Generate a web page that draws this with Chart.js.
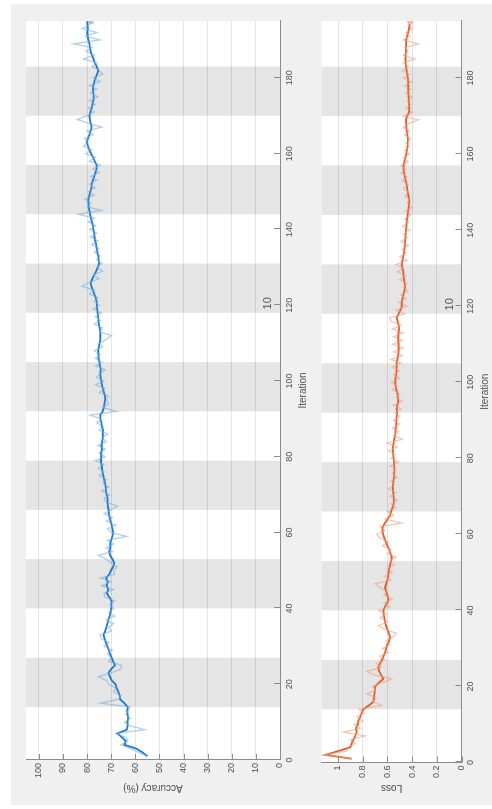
<!DOCTYPE html>
<html>
<head>
<meta charset="utf-8">
<script src="https://cdn.jsdelivr.net/npm/chart.js@4.4.1/dist/chart.umd.min.js"></script>
<style>
  html, body { margin: 0; padding: 0; background: #ffffff; }
  body { width: 492px; height: 809px; overflow: hidden; position: relative; }
  /* the training-progress figure is laid out landscape and turned a quarter turn */
  #figure {
    position: absolute; left: 0; top: 0;
    width: 809px; height: 492px;
    transform-origin: 0 0;
    transform: translate(0px, 809px) rotate(-90deg);
    background: #ffffff;
  }
  #panelBg { position: absolute; left: 4px; top: 11px; width: 801px; height: 481px; background: #f0f0f0; }
  canvas { position: absolute; left: 0; top: 0; }
</style>
</head>
<body>
<div id="figure">
  <div id="panelBg"></div>
  <canvas id="accChart" width="809" height="492"></canvas>
  <canvas id="lossChart" width="809" height="492"></canvas>
</div>
<script>
// ---- training log ----
const accuracyRaw = [
  55, 58.5, 62, 66, 63, 64, 68, 56, 62, 64.5, 62, 64, 63, 62, 74.5, 67, 66, 69, 68, 71,
  72, 75.3, 70, 66, 65.6, 71, 70, 71.5, 69.5, 73, 71, 74, 74.6, 70, 71, 69, 72, 68.5, 71, 69,
  70.5, 68.5, 72.5, 73, 69, 74, 70, 74.5, 68.5, 69, 67.5, 70, 72, 75.3, 69.5, 72, 69, 71.5, 63.5, 70,
  71.5, 68, 72, 69.5, 73, 70, 67.4, 72, 73, 70.5, 74, 71, 73.5, 72, 75, 73, 75.5, 73, 76.5, 72.5,
  75, 72.5, 75.5, 72, 74, 71.5, 75, 73, 76, 74, 78.7, 67.7, 73.5, 71, 72, 71, 75, 72.5, 76.5, 73,
  76, 74.5, 72.5, 76.5, 74, 76.5, 74.5, 77, 73.5, 75, 72, 69.8, 75, 73.5, 77, 74.5, 76.5, 74, 77.5, 75,
  77, 75.5, 79, 77, 82.2, 79, 75, 77.5, 73.5, 76, 73.8, 76, 74.5, 77, 75, 78, 75.5, 78.5, 76, 79,
  76.5, 79.5, 77, 83.6, 73.9, 80, 78.5, 81, 77, 79.5, 76.5, 79, 76, 78.5, 75, 77.5, 74.5, 79, 76.5, 80.5,
  78, 81.5, 79.5, 81, 77.5, 80, 74, 79.5, 84, 80, 77, 79.5, 76.5, 79, 75.5, 78.5, 76, 79, 74.6, 77.5,
  73.5, 75, 78, 76, 81.5, 77, 80.5, 78, 85.6, 74.6, 80.5, 76, 82, 79, 78.5
];
const accuracySmoothed = [
  55, 57, 59.5, 64.5, 64, 65.5, 67.5, 63.5, 63.2, 63.3, 63, 63.2, 63.4, 63.1, 64.5, 66.3, 66.5, 67, 67.7, 68.2,
  69.8, 70.5, 71.1, 70, 68.4, 69.2, 69.8, 70.4, 71, 71.6, 72.2, 72.7, 73.2, 72.5, 72, 71.6, 71.1, 70.6, 70.2, 70,
  69.9, 69.8, 70.8, 71.8, 71.2, 71.9, 71.4, 72.1, 70.8, 70.1, 69.2, 68.7, 69.5, 70.4, 70.8, 70.3, 70.4, 70, 69.5, 69.2,
  69.5, 69.8, 70.2, 70.6, 70.9, 71.1, 71.4, 71.6, 71.5, 71.9, 72.2, 72.3, 72.5, 72.9, 73.2, 73.5, 73.8, 74, 74.3, 74.1,
  74.2, 73.8, 74, 73.7, 73.4, 73.5, 73.3, 73.8, 74.1, 74.5, 74.6, 73.5, 73, 72.8, 72.5, 72.5, 73, 73.4, 73.8, 74.1,
  74.4, 74.6, 74.3, 74.7, 74.9, 75.2, 75.3, 75.4, 75.1, 74.8, 74.5, 74.6, 74.5, 74.8, 75.1, 75.3, 75.4, 75.6, 75.8, 75.9,
  76, 76.4, 77, 77.6, 78.2, 78.5, 77.8, 77, 76.2, 75.5, 75, 75.2, 75.4, 75.7, 76, 76.2, 76.6, 76.9, 77.1, 77.4,
  77.6, 78, 78.4, 78.7, 79, 79.2, 79.4, 79.4, 79, 78.6, 78.2, 78.1, 77.6, 77, 76.5, 76, 76, 76.8, 77.5, 78.3,
  79, 79.6, 80.1, 79.6, 79, 78.5, 78.1, 78.5, 78.8, 79, 78.6, 78.1, 77.8, 77.4, 77.3, 77.4, 77.6, 77.4, 77, 76.4,
  75.8, 75.3, 76, 76.8, 77.4, 78, 78.5, 78.8, 79, 79.4, 79.8, 79.9, 79.7, 79.8, 79.9
];
const lossRaw = [
  0.89, 1.12, 0.93, 0.92, 0.86, 0.90, 0.78, 0.957, 0.82, 0.87, 0.80, 0.85, 0.79, 0.83, 0.646, 0.72, 0.69, 0.768, 0.70, 0.72,
  0.64, 0.565, 0.70, 0.768, 0.65, 0.69, 0.62, 0.66, 0.59, 0.64, 0.58, 0.61, 0.555, 0.525, 0.62, 0.674, 0.60, 0.66, 0.61, 0.67,
  0.58, 0.625, 0.56, 0.63, 0.60, 0.66, 0.70, 0.57, 0.62, 0.56, 0.60, 0.54, 0.58, 0.53, 0.60, 0.57, 0.64, 0.59, 0.66, 0.687,
  0.62, 0.66, 0.484, 0.62, 0.55, 0.60, 0.53, 0.57, 0.52, 0.58, 0.53, 0.59, 0.54, 0.57, 0.52, 0.56, 0.53, 0.58, 0.51, 0.57,
  0.54, 0.59, 0.52, 0.606, 0.48, 0.55, 0.51, 0.56, 0.50, 0.55, 0.50, 0.54, 0.49, 0.55, 0.48, 0.53, 0.50, 0.56, 0.52, 0.57,
  0.50, 0.55, 0.50, 0.56, 0.49, 0.57, 0.48, 0.55, 0.47, 0.56, 0.48, 0.55, 0.47, 0.56, 0.49, 0.57, 0.58, 0.46, 0.53, 0.44,
  0.51, 0.45, 0.49, 0.43, 0.47, 0.44, 0.50, 0.45, 0.52, 0.47, 0.53, 0.44, 0.50, 0.45, 0.48, 0.43, 0.49, 0.44, 0.47, 0.42,
  0.48, 0.43, 0.46, 0.41, 0.45, 0.40, 0.44, 0.42, 0.46, 0.43, 0.47, 0.43, 0.48, 0.44, 0.49, 0.45, 0.49, 0.43, 0.47, 0.42,
  0.46, 0.42, 0.45, 0.41, 0.46, 0.42, 0.47, 0.43, 0.35, 0.47, 0.40, 0.45, 0.41, 0.44, 0.40, 0.45, 0.41, 0.46, 0.40, 0.47,
  0.42, 0.48, 0.43, 0.47, 0.377, 0.47, 0.43, 0.46, 0.35, 0.47, 0.42, 0.45, 0.40, 0.43, 0.415
];
const lossSmoothed = [
  0.89, 1.10, 1.0, 0.90, 0.89, 0.876, 0.86, 0.849, 0.855, 0.84, 0.836, 0.82, 0.81, 0.795, 0.75, 0.714, 0.71, 0.705, 0.702, 0.70,
  0.67, 0.633, 0.65, 0.668, 0.674, 0.66, 0.645, 0.63, 0.619, 0.61, 0.60, 0.585, 0.579, 0.59, 0.60, 0.612, 0.619, 0.625, 0.63, 0.633,
  0.62, 0.60, 0.593, 0.60, 0.61, 0.619, 0.61, 0.60, 0.595, 0.59, 0.585, 0.578, 0.57, 0.565, 0.575, 0.585, 0.60, 0.612, 0.625, 0.635,
  0.64, 0.638, 0.62, 0.60, 0.579, 0.57, 0.56, 0.55, 0.547, 0.55, 0.553, 0.555, 0.556, 0.552, 0.548, 0.546, 0.544, 0.545, 0.548, 0.55,
  0.553, 0.556, 0.556, 0.55, 0.545, 0.538, 0.535, 0.532, 0.53, 0.527, 0.525, 0.522, 0.525, 0.52, 0.512, 0.515, 0.52, 0.528, 0.534, 0.538,
  0.535, 0.53, 0.527, 0.525, 0.525, 0.52, 0.515, 0.51, 0.508, 0.51, 0.512, 0.512, 0.51, 0.505, 0.51, 0.518, 0.525, 0.51, 0.495, 0.484,
  0.484, 0.478, 0.47, 0.462, 0.457, 0.46, 0.465, 0.47, 0.471, 0.478, 0.484, 0.478, 0.472, 0.466, 0.462, 0.458, 0.457, 0.455, 0.452, 0.45,
  0.447, 0.444, 0.44, 0.436, 0.432, 0.428, 0.424, 0.423, 0.43, 0.436, 0.44, 0.445, 0.452, 0.458, 0.464, 0.468, 0.471, 0.462, 0.455, 0.448,
  0.442, 0.438, 0.436, 0.435, 0.438, 0.442, 0.446, 0.448, 0.45, 0.44, 0.425, 0.423, 0.424, 0.426, 0.428, 0.43, 0.431, 0.431, 0.433, 0.435,
  0.44, 0.445, 0.45, 0.453, 0.455, 0.453, 0.451, 0.45, 0.449, 0.449, 0.44, 0.432, 0.425, 0.42, 0.417
];
const iterations = accuracyRaw.map((_, i) => i + 1);

// axis ticks
const iterationTicks = [0, 20, 40, 60, 80, 100, 120, 140, 160, 180];
const accuracyTicks = [0, 10, 20, 30, 40, 50, 60, 70, 80, 90, 100];
const lossTicks = [0, 0.2, 0.4, 0.6, 0.8, 1];

// epochs: 13 iterations each, every second epoch shaded
const itersPerEpoch = 13;
const shadedEpochs = [2, 4, 6, 8, 10, 12, 14];
const epochMarker = { text: '10', iteration: 120.5 };

const FONT = '"Liberation Sans", Arial, Helvetica, sans-serif';
const TEXT = '#505050';
const AXIS = '#8c8c8c';

const progressPlugin = {
  id: 'progressBackdrop',
  beforeDraw(chart) {
    const { ctx, chartArea: a, scales: { x } } = chart;
    ctx.save();
    ctx.fillStyle = '#ffffff';
    ctx.fillRect(a.left, a.top, a.right - a.left, a.bottom - a.top);
    ctx.fillStyle = '#e5e5e5';
    shadedEpochs.forEach(e => {
      const x0 = x.getPixelForValue((e - 1) * itersPerEpoch + 1);
      const x1 = Math.min(x.getPixelForValue(e * itersPerEpoch + 1), a.right);
      ctx.fillRect(x0, a.top, x1 - x0, a.bottom - a.top);
    });
    ctx.restore();
  },
  afterDraw(chart) {
    const { ctx, chartArea: a, scales: { x, y } } = chart;
    ctx.save();
    // inward tick marks
    ctx.strokeStyle = AXIS;
    ctx.lineWidth = 1;
    ctx.beginPath();
    x.ticks.forEach(t => {
      const px = Math.round(x.getPixelForValue(t.value)) + 0.5;
      ctx.moveTo(px, a.bottom);
      ctx.lineTo(px, a.bottom - 6);
    });
    y.ticks.forEach(t => {
      const py = Math.round(y.getPixelForValue(t.value)) + 0.5;
      ctx.moveTo(a.left, py);
      ctx.lineTo(a.left + 6, py);
    });
    ctx.stroke();
    // epoch number
    ctx.fillStyle = TEXT;
    ctx.font = '11px ' + FONT;
    ctx.textAlign = 'center';
    ctx.textBaseline = 'middle';
    ctx.fillText(epochMarker.text, x.getPixelForValue(epochMarker.iteration), a.bottom - 11.7);
    ctx.restore();
  }
};

function makeChart(id, opts) {
  const lastIdx = iterations.length - 1;
  return new Chart(document.getElementById(id), {
    type: 'line',
    data: {
      labels: iterations,
      datasets: [
        {
          data: opts.raw.map((v, i) => ({ x: iterations[i], y: v })),
          borderColor: opts.light,
          backgroundColor: opts.marker,
          borderWidth: 1.3,
          tension: 0,
          pointRadius: ctx => (ctx.dataIndex === lastIdx ? 3.2 : 0),
          pointBorderWidth: 0
        },
        {
          data: opts.smooth.map((v, i) => ({ x: iterations[i], y: v })),
          borderColor: opts.dark,
          borderWidth: 1.8,
          tension: 0,
          pointRadius: 0
        }
      ]
    },
    options: {
      responsive: false,
      animation: false,
      events: [],
      layout: { padding: opts.padding },
      plugins: { legend: { display: false }, tooltip: { enabled: false } },
      scales: {
        x: {
          type: 'linear', min: 0, max: 195,
          afterBuildTicks: s => { s.ticks = iterationTicks.map(v => ({ value: v })); },
          afterFit: s => { s.height = opts.xHeight; },
          grid: { display: false, drawTicks: false },
          border: { display: true, color: AXIS, width: 1 },
          ticks: { color: TEXT, font: { family: FONT, size: 9 }, padding: 4, maxRotation: 0, autoSkip: false },
          title: { display: true, text: 'Iteration', color: TEXT, font: { family: FONT, size: 10 }, padding: { top: 0, bottom: 0 } }
        },
        y: {
          type: 'linear', min: 0, max: opts.yMax,
          afterBuildTicks: s => { s.ticks = opts.yTicks.map(v => ({ value: v })); },
          afterFit: s => { s.width = 40; },
          grid: { color: 'rgba(0,0,0,0.10)', lineWidth: 1, drawTicks: false },
          border: { display: true, color: AXIS, width: 1 },
          ticks: { color: TEXT, font: { family: FONT, size: 9 }, padding: 3, autoSkip: false, callback: v => String(v) },
          title: { display: true, text: opts.yTitle, color: TEXT, font: { family: FONT, size: 10 }, padding: { top: opts.titlePad, bottom: 0 } }
        }
      }
    },
    plugins: [progressPlugin]
  });
}

makeChart('accChart', {
  raw: accuracyRaw, smooth: accuracySmoothed,
  dark: '#1f77c6', light: 'rgba(120,175,225,0.6)', marker: '#9fc6ea',
  yMax: 105.3, yTicks: accuracyTicks, yTitle: 'Accuracy (%)',
  padding: { left: 9, right: 21, top: 26, bottom: 183 }, xHeight: 29, titlePad: 6
});

makeChart('lossChart', {
  raw: lossRaw, smooth: lossSmoothed,
  dark: '#e0592a', light: 'rgba(240,160,125,0.6)', marker: '#f4b9a0',
  yMax: 1.132, yTicks: lossTicks, yTitle: 'Loss',
  padding: { left: 6.5, right: 21, top: 321.7, bottom: 1 }, xHeight: 29.5, titlePad: 8.5
});
</script>
</body>
</html>
